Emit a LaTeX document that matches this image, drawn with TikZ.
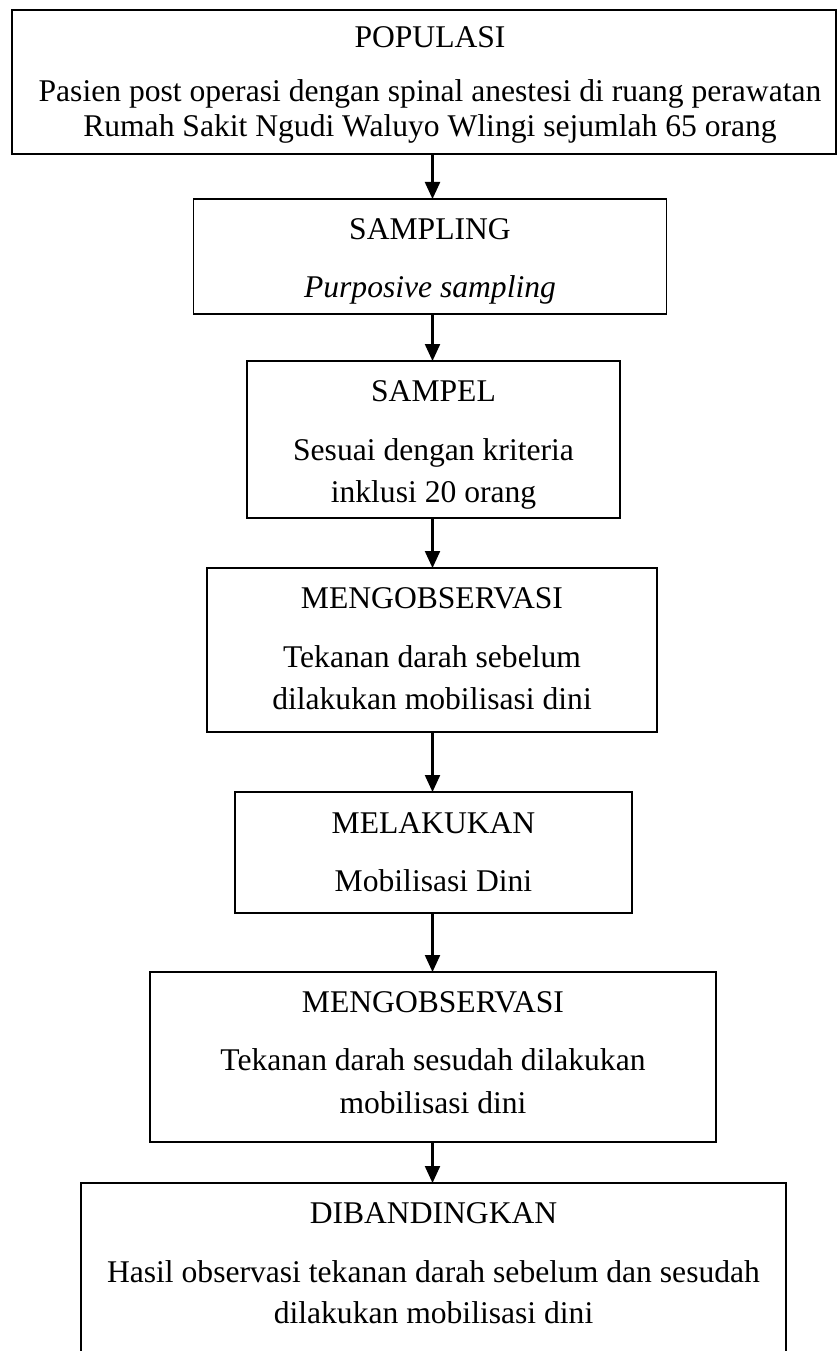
\documentclass[tikz,border=0pt]{standalone}
\usepackage{fontspec}
\setmainfont{Liberation Serif}
\usetikzlibrary{arrows.meta}
\tikzset{
  box/.style={draw=black, line width=1.9pt, rectangle, anchor=north west, inner sep=0pt, outer sep=0pt},
  txt/.style={anchor=base, inner sep=0pt, outer sep=0pt, font=\fontsize{31.6}{38}\selectfont, text=black},
  arr/.style={draw=black, line width=2.2pt, -{Triangle[length=17pt, width=15pt]}}
}
\begin{document}
\begin{tikzpicture}[x=1pt, y=-1pt]
\clip (0,0) rectangle (838,1351);
\fill[white] (0,0) rectangle (838,1351);
\coordinate (ax) at (432.5,0);
% boxes
\node[box, minimum width=824pt, minimum height=144pt] (b1) at (12,10) {};
\node[box, minimum width=473pt, minimum height=115pt] (b2) at (193.5,199) {};
\node[box, minimum width=373pt, minimum height=157pt] (b3) at (247,361) {};
\node[box, minimum width=450pt, minimum height=164pt] (b4) at (207,568) {};
\node[box, minimum width=397pt, minimum height=121pt] (b5) at (235,792) {};
\node[box, minimum width=566pt, minimum height=170pt] (b6) at (150,972) {};
\node[box, minimum width=705pt, minimum height=220pt] (b7) at (81,1183) {};
% texts
\node[txt] (t1a) at (430,48) {POPULASI};
\node[txt] (t1b) at (430,102) {Pasien post operasi dengan spinal anestesi di ruang perawatan};
\node[txt] (t1c) at (430,137) {Rumah Sakit Ngudi Waluyo Wlingi sejumlah 65 orang};
\node[txt] (t2a) at (430,239) {SAMPLING};
\node[txt] (t2b) at (430,297) {\itshape Purposive sampling};
\node[txt] (t3a) at (433.5,401) {SAMPEL};
\node[txt] (t3b) at (433.5,460) {Sesuai dengan kriteria};
\node[txt] (t3c) at (433.5,502) {inklusi 20 orang};
\node[txt] (t4a) at (432,608) {MENGOBSERVASI};
\node[txt] (t4b) at (432,667) {Tekanan darah sebelum};
\node[txt] (t4c) at (432,709) {dilakukan mobilisasi dini};
\node[txt] (t5a) at (433.5,833) {MELAKUKAN};
\node[txt] (t5b) at (433.5,891) {Mobilisasi Dini};
\node[txt] (t6a) at (433,1012) {MENGOBSERVASI};
\node[txt] (t6b) at (433,1070) {Tekanan darah sesudah dilakukan};
\node[txt] (t6c) at (433,1113) {mobilisasi dini};
\node[txt] (t7a) at (433.5,1223) {DIBANDINGKAN};
\node[txt] (t7b) at (433.5,1282) {Hasil observasi tekanan darah sebelum dan sesudah};
\node[txt] (t7c) at (433.5,1323) {dilakukan mobilisasi dini};
% arrows
\draw[arr] (b1.south -| ax) -- (b2.north -| ax);
\draw[arr] (b2.south -| ax) -- (b3.north -| ax);
\draw[arr] (b3.south -| ax) -- (b4.north -| ax);
\draw[arr] (b4.south -| ax) -- (b5.north -| ax);
\draw[arr] (b5.south -| ax) -- (b6.north -| ax);
\draw[arr] (b6.south -| ax) -- (b7.north -| ax);
\end{tikzpicture}
\end{document}
